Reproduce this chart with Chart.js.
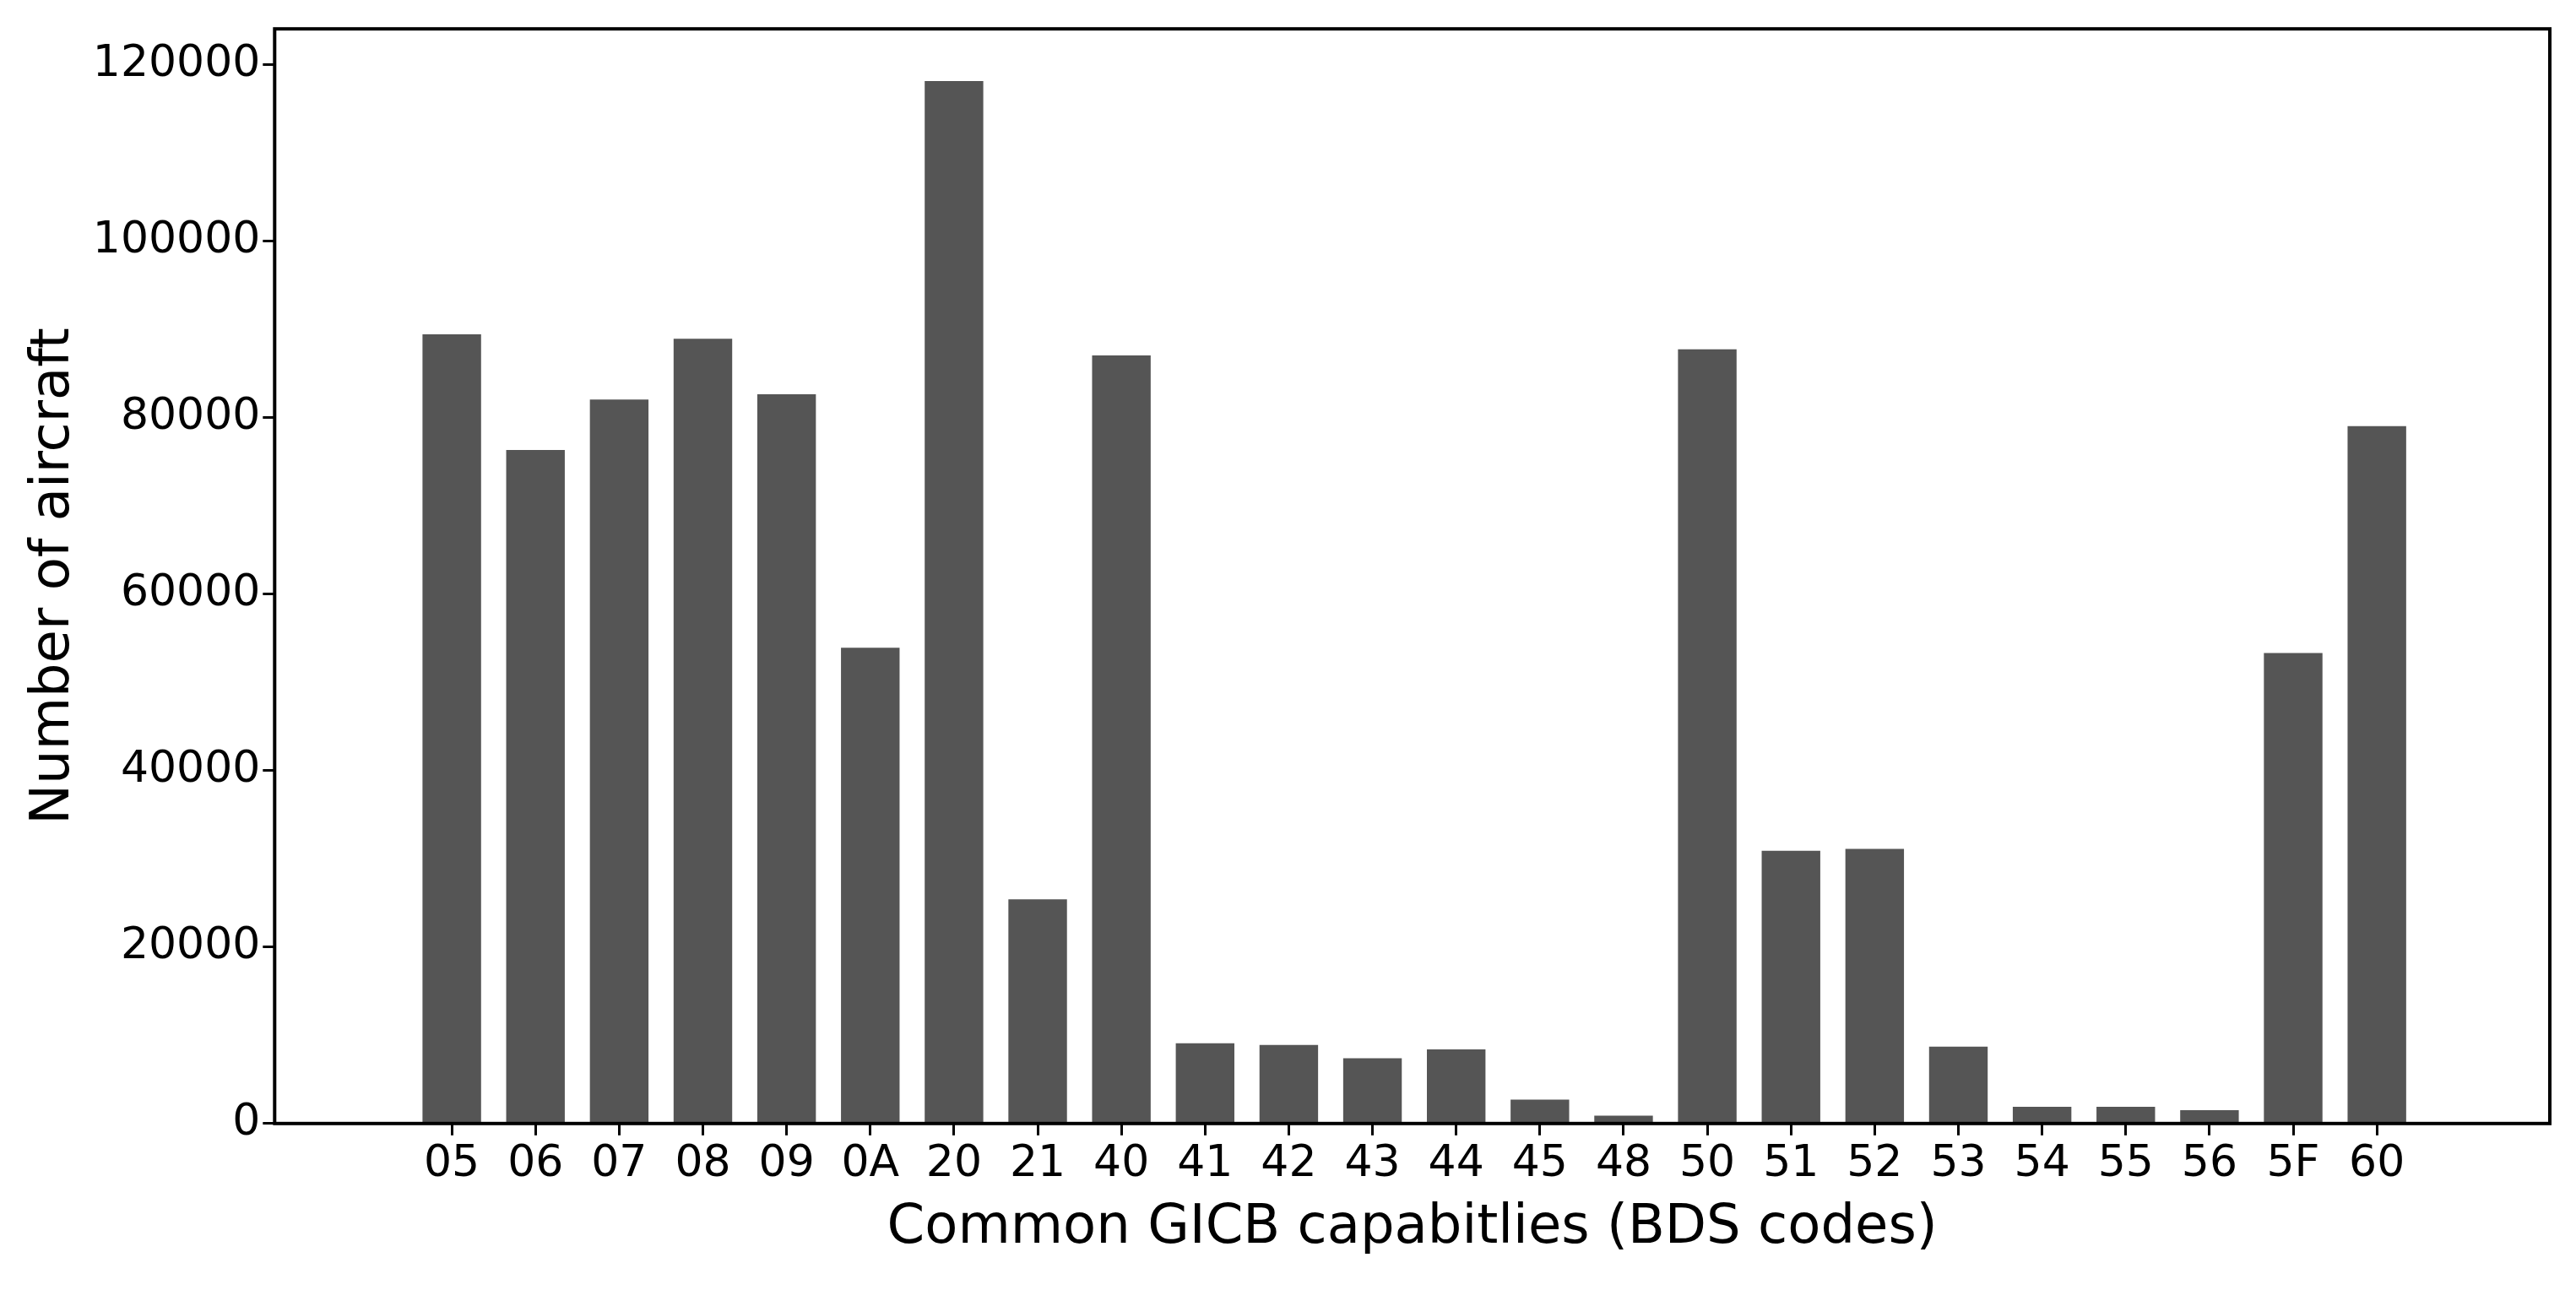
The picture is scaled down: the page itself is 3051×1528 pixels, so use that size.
<!DOCTYPE html>
<html>
<head>
<meta charset="utf-8">
<script src="https://cdn.jsdelivr.net/npm/chart.js@4"></script>
<style>html,body{margin:0;padding:0;background:#fff;}</style>
</head>
<body>
<canvas id="myChart" width="3051" height="1528"></canvas>
<script>
const codes = ["05","06","07","08","09","0A","20","21","40","41","42","43","44","45","48","50","51","52","53","54","55","56","5F","60"];
const counts = [89400,76300,82000,88900,82600,53900,118100,25400,87000,9100,8900,7400,8400,2700,900,87700,30900,31100,8700,1900,1900,1500,53300,79000];
const yTicks = [0,20000,40000,60000,80000,100000,120000];

const frame = {
  id: "frame",
  afterDraw(chart) {
    const a = chart.chartArea, c = chart.ctx;
    c.save();
    c.strokeStyle = "#000";
    c.lineWidth = 4;
    c.strokeRect(a.left, a.top, a.right - a.left, a.bottom - a.top);
    c.restore();
  }
};

const font = { family: "DejaVu Sans", size: 52 };
const titleFont = { family: "DejaVu Sans", size: 64 };

new Chart(document.getElementById("myChart"), {
  type: "bar",
  data: {
    datasets: [{
      data: codes.map((c, i) => ({ x: i, y: counts[i] })),
      backgroundColor: "#555555",
      barPercentage: 0.7,
      categoryPercentage: 1
    }]
  },
  options: {
    responsive: false,
    devicePixelRatio: 1,
    animation: false,
    layout: { padding: { top: 33, right: 31, left: 22, bottom: 30 } },
    plugins: { legend: { display: false }, tooltip: { enabled: false } },
    scales: {
      x: {
        type: "linear",
        min: -1.55,
        max: 24.5,
        afterBuildTicks(axis) { axis.ticks = codes.map((c, i) => ({ value: i })); },
        ticks: { font, color: "#000", autoSkip: false, maxRotation: 0, callback: v => codes[v] },
        grid: { offset: false, drawOnChartArea: false, tickLength: 14, color: "#000", lineWidth: 3 },
        border: { display: false },
        title: { display: true, text: "Common GICB capabitlies (BDS codes)", font: titleFont, color: "#000" }
      },
      y: {
        min: 0,
        max: 124000,
        afterBuildTicks(axis) { axis.ticks = yTicks.map(v => ({ value: v })); },
        ticks: { font, color: "#000", callback: v => String(v) },
        grid: { drawOnChartArea: false, tickLength: 14, color: "#000", lineWidth: 3 },
        border: { display: false },
        title: { display: true, text: "Number of aircraft", font: titleFont, color: "#000" }
      }
    }
  },
  plugins: [frame]
});
</script>
</body>
</html>
